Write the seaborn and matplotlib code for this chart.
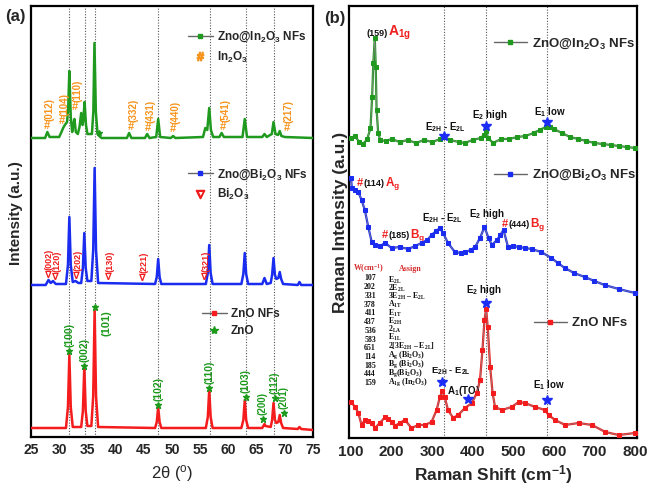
import matplotlib
matplotlib.use('Agg')
import matplotlib.pyplot as plt
from matplotlib.lines import Line2D
from matplotlib.ticker import MultipleLocator
import seaborn as sns

sns.set_style('white')
plt.rcParams['font.family'] = ['Liberation Sans', 'DejaVu Sans']
plt.rcParams['mathtext.fontset'] = 'custom'
plt.rcParams['mathtext.rm'] = 'Liberation Sans'
plt.rcParams['mathtext.bf'] = 'Liberation Sans:bold'
plt.rcParams['mathtext.it'] = 'Liberation Sans:italic'
plt.rcParams['mathtext.default'] = 'bf'

# ---------------- Panel (a): XRD data (intensity in a.u., offset stacked) ----------------
in_2theta = [25.0, 27.5, 27.9, 28.3, 30.0, 30.4, 30.7, 31.0, 31.4, 31.6, 31.8, 32.05, 32.3,
             32.5, 32.7, 32.95, 33.3, 33.6, 33.9, 34.15, 34.3, 34.5, 34.75, 35.0, 35.8, 36.05,
             36.25, 36.5, 36.8, 37.1, 37.5, 42.0, 42.4, 42.8, 45.2, 45.6, 46.0, 47.2, 47.55,
             47.9, 49.8, 50.2, 50.6, 55.5, 55.9, 56.25, 56.6, 56.9, 57.3, 58.4, 58.8, 59.2,
             62.5, 62.9, 63.3, 66.0, 66.4, 66.8, 67.7, 68.0, 68.35, 68.8, 69.1, 69.4, 70.0, 75.0]
in_int = [299, 299, 305, 300, 300, 305, 309, 312, 315, 330, 366, 320, 305,
          312, 318, 305, 303, 310, 324, 312, 318, 335, 312, 303, 303, 325,
          394, 325, 303, 301, 299, 299, 304, 299, 299, 303, 299, 300, 318,
          300, 299, 301, 299, 300, 309, 307, 329, 307, 300, 300, 304, 300,
          300, 318, 300, 300, 303, 300, 303, 315, 303, 302, 306, 301, 300, 299]

bi_2theta = [25.0, 27.6, 28.1, 28.5, 28.9, 29.4, 31.2, 31.55, 31.8, 32.05, 32.4, 32.9, 33.4,
             33.9, 34.2, 34.45, 34.7, 35.0, 35.7, 36.03, 36.28, 36.53, 36.9, 47.0, 47.3, 47.55,
             47.8, 48.1, 56.0, 56.35, 56.6, 56.85, 57.2, 62.3, 62.65, 62.9, 63.15, 63.5, 66.0,
             66.4, 66.8, 67.5, 67.75, 68.0, 68.25, 68.5, 68.85, 69.1, 69.35, 69.7, 72.3, 72.6,
             72.9, 75.0]
bi_int = [152, 152, 157, 154, 156, 153, 153, 172, 220, 172, 155, 156, 154,
          154, 169, 204, 169, 156, 156, 187, 269, 187, 154, 153, 160, 178,
          160, 153, 153, 164, 192, 164, 153, 153, 163, 184, 163, 153, 153,
          159, 153, 154, 162, 179, 162, 158, 159, 165, 158, 153, 152, 155,
          152, 152]

zno_2theta = [25.0, 31.2, 31.55, 31.8, 32.05, 32.4, 33.9, 34.2, 34.45, 34.7, 35.0, 35.7, 36.03,
              36.28, 36.53, 36.9, 47.0, 47.3, 47.55, 47.8, 48.1, 56.0, 56.35, 56.6, 56.85, 57.2,
              62.3, 62.65, 62.9, 63.15, 63.5, 66.0, 66.2, 66.4, 66.6, 67.5, 67.75, 68.0, 68.25,
              68.5, 68.85, 69.1, 69.35, 69.7, 72.3, 72.6, 72.9, 75.0]
zno_int = [9, 9, 30, 82, 30, 10, 10, 26, 70, 26, 11, 11, 41,
           127, 41, 10, 9, 15, 30, 15, 9, 9, 20, 47, 20, 9,
           9, 17, 37, 17, 9, 9, 11, 13, 11, 10, 17, 34, 17,
           14, 15, 22, 14, 9, 8, 10, 8, 7]

zno_ref_lines = [31.8, 34.5, 36.3, 47.6, 56.7, 63.05, 68.1]

zno_hkl = ['(100)', '(002)', '(101)', '(102)', '(110)', '(103)', '(200)', '(112)', '(201)']
zno_hkl_pos = [31.75, 34.4, 36.3, 47.6, 56.6, 63.05, 66.1, 68.2, 69.8]
zno_hkl_y = [86, 71, 130, 32, 49, 40, 18, 39, 24]

bi_hkl = ['(002)', '(120)', '(202)', '(130)', '(221)', '(321)']
bi_hkl_pos = [28.0, 29.4, 33.0, 38.8, 44.8, 55.7]
bi_hkl_y = [162, 160, 161, 160, 159, 160]

in_hkl = ['(012)', '(104)', '(110)', '(332)', '(431)', '(440)', '(541)', '(217)']
in_hkl_pos = [27.8, 30.55, 32.85, 42.7, 45.7, 50.2, 59.1, 70.3]
in_hkl_y = [311, 316, 330, 310, 309, 308, 310, 309]

# ---------------- Panel (b): Raman data ----------------
ram_in_w = [100, 110, 120, 130, 140, 148, 152, 155, 158.5, 161, 163, 167, 172, 185, 200, 220, 240,
            260, 280, 300, 320, 330, 345, 365, 380, 400, 420, 428, 433, 438, 450, 470, 490, 510,
            530, 550, 565, 580, 590, 600, 620, 640, 660, 680, 700, 720, 740, 760, 780, 800]
ram_in_i = [300, 302, 296, 294, 299, 310, 341, 375, 400, 371, 328, 305, 298, 297, 299, 296, 298,
            295, 298, 296, 299, 301, 298, 296, 295, 298, 300, 303, 307, 300, 295, 299, 299, 301,
            302, 305, 308, 311, 311, 309, 305, 301, 299, 297, 295, 294, 293, 292, 291, 290]

ram_bi_w = [100, 102, 110, 118, 126, 134, 142.5, 151, 159, 172, 184, 200, 220, 241, 258, 274, 288,
            298.5, 310, 319, 327, 339, 356, 370, 381, 395, 406, 418, 429, 439, 447, 460, 468, 476,
            487, 500, 515, 528, 545, 569, 594, 610, 627, 650, 676, 700, 725, 760, 800]
ram_bi_i = [260, 250, 248, 246, 238, 228, 211, 196, 193, 192, 195, 190, 191, 189, 192, 195, 198,
            203, 207, 210, 205, 195, 186, 185, 186, 188, 191, 200, 211, 200, 193, 198, 203, 208,
            191, 192, 191, 190, 189, 186, 180, 175, 170, 165, 161, 157, 153, 149, 145]

ram_zno_w = [100, 110, 118, 126, 134, 142, 151, 159, 171, 184, 192, 200, 208, 220, 233, 249, 266,
             282, 298.5, 311, 319, 325, 331, 339, 352, 364, 381, 398, 410, 418, 424, 429, 433, 437,
             443, 449, 455, 472, 496, 513, 529, 554, 578, 587, 603, 628, 661, 694, 727, 760, 800]
ram_zno_i = [36, 31, 25, 13, 18, 17, 15, 10, 15, 21, 19, 16, 12, 15, 18, 10, 13,
             13, 16, 28, 41, 47, 41, 28, 20, 23, 30, 35, 45, 58, 88, 118, 129, 111,
             71, 45, 31, 28, 31, 36, 35, 31, 28, 23, 18, 13, 15, 13, 6, 3, 5]

raman_ref_lines = [328, 433, 583]
in_star_w = [328, 433, 583]
in_star_i = [302, 312, 316]
zno_star_w = [325, 388, 433, 582]
zno_star_i = [56, 39, 135, 38]

table_w = ['107', '202', '331', '378', '411', '437', '536', '583', '651', '114', '185', '444', '159']
table_assign = [r'E$_{\mathregular{2L}}$', r'2E$_{\mathregular{2L}}$',
                r'3E$_{\mathregular{2H}}$ – E$_{\mathregular{2L}}$', r'A$_{\mathregular{1T}}$',
                r'E$_{\mathregular{1T}}$', r'E$_{\mathregular{2H}}$', r'2$_{\mathregular{LA}}$',
                r'E$_{\mathregular{1L}}$', r'2[3E$_{\mathregular{2H}}$ – E$_{\mathregular{2L}}$]',
                r'A$_{\mathregular{g}}$ (Bi$_{\mathregular{2}}$O$_{\mathregular{3}}$)',
                r'B$_{\mathregular{g}}$ (Bi$_{\mathregular{2}}$O$_{\mathregular{3}}$)',
                r'B$_{\mathregular{g}}$(Bi$_{\mathregular{2}}$O$_{\mathregular{3}}$)',
                r'A$_{\mathregular{1g}}$ (In$_{\mathregular{2}}$O$_{\mathregular{3}}$)']

# ---------------- colours ----------------
C_IN = '#1f9a1f'
C_BI = '#1a2cf0'
C_ZNO = '#f41c1c'
C_OR = '#f7941d'
C_GTXT = '#1c9a1c'
C_RTXT = '#f01e1e'
C_STAR = '#1a2cf5'

fig = plt.figure(figsize=(6.51, 4.88), dpi=100)
axL = fig.add_axes([31 / 651, 51 / 488, 282 / 651, 431 / 488])
axR = fig.add_axes([349 / 651, 50 / 488, 288 / 651, 432 / 488])
axL.set_xlim(25, 75)
axL.set_ylim(0, 431)
axR.set_xlim(95, 805)
axR.set_ylim(0, 432)

# ======================= Panel (a) =======================
for v in zno_ref_lines:
    axL.axvline(v, color='#555555', ls=(0, (1, 1.5)), lw=0.8, zorder=1)
sns.lineplot(x=in_2theta, y=in_int, ax=axL, color=C_IN, lw=1.8, sort=False, estimator=None, zorder=3)
sns.lineplot(x=bi_2theta, y=bi_int, ax=axL, color=C_BI, lw=1.8, sort=False, estimator=None, zorder=3)
sns.lineplot(x=zno_2theta, y=zno_int, ax=axL, color=C_ZNO, lw=1.8, sort=False, estimator=None, zorder=3)

# ZnO labels
for lab, x, y in zip(zno_hkl, zno_hkl_pos, zno_hkl_y):
    axL.plot([x], [y], marker='*', color=C_GTXT, ms=5, ls='none', zorder=5)
    if lab == '(101)':
        axL.text(x + 2.0, y - 3, lab, rotation=90, ha='center', va='top', color=C_GTXT,
                 fontsize=8, fontweight='bold')
    else:
        fs = 7.5 if x < 65 else 7
        axL.text(x, y + 4, lab, rotation=90, ha='center', va='bottom', color=C_GTXT,
                 fontsize=fs, fontweight='bold')
# Bi2O3 labels
for lab, x, y in zip(bi_hkl, bi_hkl_pos, bi_hkl_y):
    axL.text(x, y, '∇', ha='center', va='center', color=C_RTXT, fontsize=7,
             fontweight='bold', family='DejaVu Sans')
    axL.text(x + 0.25, y + 5, lab, rotation=90, ha='center', va='bottom', color=C_RTXT,
             fontsize=6.5, fontweight='bold')
# In2O3 labels
for lab, x, y in zip(in_hkl, in_hkl_pos, in_hkl_y):
    axL.text(x, y, '#', ha='center', va='center', color=C_OR, fontsize=8, fontweight='bold')
    axL.text(x + 0.4, y + 5, lab, rotation=90, ha='center', va='bottom', color=C_OR,
             fontsize=7, fontweight='bold')
axL.plot([37.1], [304], marker='*', color=C_GTXT, ms=4, ls='none', zorder=5)

leg_kw = dict(loc='upper left', frameon=False, borderpad=0, borderaxespad=0,
              handletextpad=0.35, labelspacing=0.45, prop=dict(weight='bold', size=8.5))
legA1 = axL.legend([Line2D([], [], color='#666666', lw=1, marker='s', ms=2.5, mfc=C_IN, mec=C_IN),
                    Line2D([], [], ls='none', marker=r'$\#$', ms=6, color=C_OR)],
                   ['Zno@In$_2$O$_3$ NFs', 'In$_2$O$_3$'], bbox_to_anchor=(0.557, 0.945),
                   handlelength=2.1, **leg_kw)
axL.add_artist(legA1)
legA2 = axL.legend([Line2D([], [], color='#666666', lw=1, marker='s', ms=2.5, mfc=C_BI, mec=C_BI),
                    Line2D([], [], ls='none', marker=r'$\nabla$', ms=6, color=C_RTXT)],
                   ['Zno@Bi$_2$O$_3$ NFs', 'Bi$_2$O$_3$'], bbox_to_anchor=(0.557, 0.626),
                   handlelength=2.1, **leg_kw)
axL.add_artist(legA2)
legA3 = axL.legend([Line2D([], [], color='#666666', lw=1, marker='s', ms=2.5, mfc=C_ZNO, mec=C_ZNO),
                    Line2D([], [], ls='none', marker='*', ms=6, color=C_GTXT)],
                   ['ZnO NFs', 'ZnO'], bbox_to_anchor=(0.606, 0.299),
                   handlelength=2.1, **leg_kw)

axL.xaxis.set_major_locator(MultipleLocator(5))
axL.xaxis.set_minor_locator(MultipleLocator(2.5))
axL.set_yticks([])
axL.tick_params(axis='x', which='major', direction='in', length=5, width=1.3, labelsize=10, pad=4)
axL.tick_params(axis='x', which='minor', direction='in', length=3, width=1.3)
for t in axL.get_xticklabels():
    t.set_fontweight('bold')
axL.set_xlabel(r'2θ ($^{\mathregular{o}}$)', fontsize=12, labelpad=5)
axL.set_ylabel('Intensity (a.u.)', fontsize=11, fontweight='bold')
axL.yaxis.set_label_coords(-0.027, 0.52)

# ======================= Panel (b) =======================
for v in raman_ref_lines:
    axR.axvline(v, color='#555555', ls=(0, (1, 1.5)), lw=0.8, zorder=1)
for xs, ys, c in [(ram_in_w, ram_in_i, C_IN), (ram_bi_w, ram_bi_i, C_BI), (ram_zno_w, ram_zno_i, C_ZNO)]:
    sns.lineplot(x=xs, y=ys, ax=axR, color=c, lw=1.6, sort=False, estimator=None, zorder=3)
    sns.lineplot(x=xs, y=ys, ax=axR, color='#888888', lw=0.5, sort=False, estimator=None,
                 marker='s', markersize=2.6, markerfacecolor=c, markeredgecolor=c, zorder=4)

axR.plot(in_star_w, in_star_i, ls='none', marker='*', ms=7, color=C_STAR, zorder=6)
axR.plot(zno_star_w, zno_star_i, ls='none', marker='*', ms=7, color=C_STAR, zorder=6)

lab_kw = dict(ha='center', va='center', fontsize=7, fontweight='bold', color='#111111')
axR.text(333, 311, r'E$_{2H}$ - E$_{2L}$', **lab_kw)
axR.text(441, 323, r'E$_2$ high', **lab_kw)
axR.text(590, 326, r'E$_1$ low', **lab_kw)
axR.text(325.5, 220, r'E$_{2H}$ - E$_{2L}$', **lab_kw)
axR.text(434, 224, r'E$_2$ high', **lab_kw)
axR.text(346, 67, r'E$_{2H}$ - E$_{2L}$', ha='center', va='center', fontsize=6.8,
         fontweight='bold', color='#111111')
axR.text(377, 47, r'A$_1$(TO)', **lab_kw)
axR.text(428, 148, r'E$_2$ high', **lab_kw)
axR.text(587, 53, r'E$_1$ low', **lab_kw)

renderer = fig.canvas.get_renderer()


def chain(ax, x, y, parts):
    """Write several differently styled pieces one after another on a common baseline."""
    xx = x
    for s, c, fs in parts:
        t = ax.text(xx, y, s, color=c, fontsize=fs, fontweight='bold', ha='left', va='baseline')
        bb = t.get_window_extent(renderer)
        xx = ax.transData.inverted().transform((bb.x1, bb.y0))[0] + 1


chain(axR, 138, 402, [('(159)', '#111111', 6.5), (r'A$_{1g}$', C_RTXT, 10)])
chain(axR, 114, 252, [('#', C_RTXT, 8), ('(114)', '#111111', 6.5), (r'A$_g$', C_RTXT, 8.5)])
chain(axR, 176, 200, [('#', C_RTXT, 8), ('(185)', '#111111', 6.5), (r'B$_g$', C_RTXT, 8.5)])
chain(axR, 471, 211, [('#', C_RTXT, 8), ('(444)', '#111111', 6.5), (r'B$_g$', C_RTXT, 8.5)])

# table of assignments (one text block per column)
tab_font = dict(fontsize=5.7, fontweight='bold', family='Liberation Serif')
axR.text(144, 169, r'W(cm$^{\mathregular{-1}}$)', ha='center', va='center', color='#d42a2a', **tab_font)
axR.text(245, 169, 'Assign', ha='center', va='center', color='#d42a2a', **tab_font)
axR.text(147, 163.5, '\n'.join(table_w), ha='center', va='top', multialignment='center',
         color='#111111', linespacing=1.12, **tab_font)
axR.text(190, 163.5, '\n'.join(table_assign), ha='left', va='top', multialignment='left',
         color='#111111', linespacing=0.63, **tab_font)

legR_kw = dict(loc='upper left', frameon=False, borderpad=0, borderaxespad=0,
               handletextpad=0.4, handlelength=2.5, prop=dict(weight='bold', size=9.5))
legB1 = axR.legend([Line2D([], [], color='#666666', lw=1, marker='s', ms=2.5, mfc=C_IN, mec=C_IN)],
                   ['ZnO@In$_2$O$_3$ NFs'], bbox_to_anchor=(0.503, 0.93), **legR_kw)
axR.add_artist(legB1)
legB2 = axR.legend([Line2D([], [], color='#666666', lw=1, marker='s', ms=2.5, mfc=C_BI, mec=C_BI)],
                   ['ZnO@Bi$_2$O$_3$ NFs'], bbox_to_anchor=(0.503, 0.625), **legR_kw)
axR.add_artist(legB2)
legB3 = axR.legend([Line2D([], [], color='#666666', lw=1, marker='s', ms=2.5, mfc=C_ZNO, mec=C_ZNO)],
                   ['ZnO NFs'], bbox_to_anchor=(0.642, 0.28), **legR_kw)

axR.xaxis.set_major_locator(MultipleLocator(100))
axR.xaxis.set_minor_locator(MultipleLocator(50))
axR.set_yticks([])
axR.tick_params(axis='x', which='major', direction='in', length=5, width=1.3, labelsize=11, pad=5)
axR.tick_params(axis='x', which='minor', direction='in', length=3, width=1.3)
for t in axR.get_xticklabels():
    t.set_fontweight('bold')
axR.set_xlabel(r'Raman Shift (cm$^{\mathregular{-1}}$)', fontsize=12.5, fontweight='bold', labelpad=3)
axR.set_ylabel('Raman Intensity (a.u.)', fontsize=12.5, fontweight='bold')
axR.yaxis.set_label_coords(-0.005, 0.5)

for ax in (axL, axR):
    for s in ax.spines.values():
        s.set_linewidth(1.6)
        s.set_color('black')

fig.text(5 / 651, 1 - 16 / 488, '(a)', fontsize=12, fontweight='bold', va='center', ha='left')
fig.text(324 / 651, 1 - 18 / 488, '(b)', fontsize=12, fontweight='bold', va='center', ha='left')

fig.savefig('out.png', dpi=100)
